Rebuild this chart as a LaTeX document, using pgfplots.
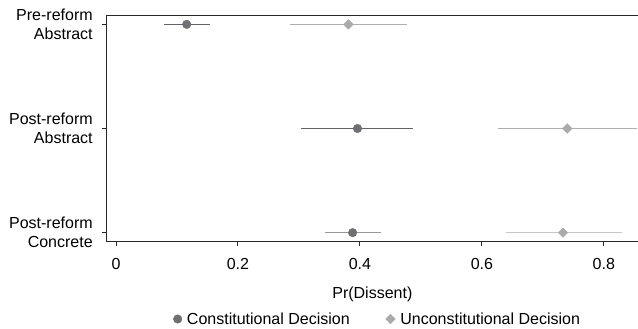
\documentclass[border=0pt]{standalone}
\usepackage{fontspec}
\setmainfont{Liberation Sans}
\usepackage{pgfplots}
\usepackage{pgfplotstable}
\pgfplotsset{compat=1.18}
\definecolor{cdot}{RGB}{112,112,116}
\definecolor{cline}{RGB}{100,100,104}
\definecolor{clineB}{RGB}{150,150,152}
\definecolor{udot}{RGB}{170,170,170}
\definecolor{uline}{RGB}{175,175,175}
\definecolor{ulineB}{RGB}{198,198,198}
\definecolor{axc}{RGB}{40,40,40}
\pgfplotstableread{
y x em ep
3 0.116 0.038 0.039
2 0.396 0.092 0.091
}\consA
\pgfplotstableread{
y x em ep
1 0.388 0.046 0.046
}\consB
\pgfplotstableread{
y x em ep
3 0.381 0.095 0.096
2 0.740 0.113 0.114
}\uncA
\pgfplotstableread{
y x em ep
1 0.733 0.094 0.097
}\uncB
\begin{document}
\begin{tikzpicture}[font=\fontsize{16bp}{19bp}\selectfont]
\begin{axis}[
  at={(0,0)}, anchor=south west,
  scale only axis, width=531.3bp, height=226.7bp,
  xmin=-0.0152, xmax=0.856, ymin=0.913, ymax=3.09,
  axis x line*=bottom, axis y line*=left,
  axis line style={-, color=axc, line width=0.9bp},
  xtick={0,0.2,0.4,0.6,0.8},
  xticklabels={0,0.2,0.4,0.6,0.8},
  ytick={1,2,3},
  yticklabels={{Post-reform\\Concrete},{Post-reform\\Abstract},{Pre-reform\\Abstract}},
  yticklabel style={align=right, xshift=-6bp},
  xticklabel style={yshift=-9bp},
  xlabel style={yshift=-10bp},
  tick align=outside, major tick length=4.5bp,
  tick style={color=axc, line width=0.9bp},
  xlabel={Pr(Dissent)},
  /pgf/number format/assume math mode=true,
  legend style={at={(0.51,-0.341)}, anchor=center, draw=none, fill=none,
    legend columns=2, column sep=3bp, font=\fontsize{16bp}{19bp}\selectfont,
    /tikz/every even column/.append style={column sep=34bp}},
  legend cell align=left,
]
\addplot[only marks, mark=*, mark size=4.3bp, color=cdot,
  error bars/.cd, x dir=both, x explicit, error mark=none,
  error bar style={color=cline, line width=0.9bp}]
  table[x=x, y=y, x error minus=em, x error plus=ep]{\consA};
\addlegendentry{Constitutional Decision}
\addplot[only marks, mark=square*, mark size=3.4bp, mark options={rotate=45}, color=udot,
  error bars/.cd, x dir=both, x explicit, error mark=none,
  error bar style={color=uline, line width=0.9bp}]
  table[x=x, y=y, x error minus=em, x error plus=ep]{\uncA};
\addlegendentry{Unconstitutional Decision}
\addplot[forget plot, only marks, mark=*, mark size=4.3bp, color=cdot,
  error bars/.cd, x dir=both, x explicit, error mark=none,
  error bar style={color=clineB, line width=0.9bp}]
  table[x=x, y=y, x error minus=em, x error plus=ep]{\consB};
\addplot[forget plot, only marks, mark=square*, mark size=3.4bp, mark options={rotate=45}, color=udot,
  error bars/.cd, x dir=both, x explicit, error mark=none,
  error bar style={color=ulineB, line width=0.9bp}]
  table[x=x, y=y, x error minus=em, x error plus=ep]{\uncB};
\draw[color=axc, line width=0.9bp] (rel axis cs:0,1) -- (rel axis cs:1,1);
\end{axis}
\pgfresetboundingbox
\path[use as bounding box] (-106.7bp,-87.3bp) rectangle (531.3bp,241.7bp);
\end{tikzpicture}
\end{document}
